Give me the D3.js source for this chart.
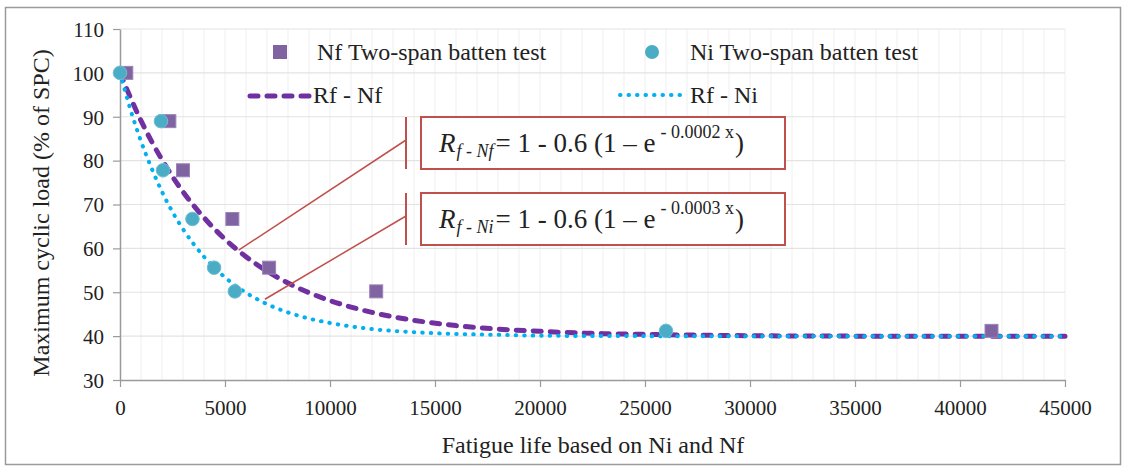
<!DOCTYPE html>
<html>
<head>
<meta charset="utf-8">
<script src="https://cdn.jsdelivr.net/npm/d3@7"></script>
<style>
  body { margin: 0; background: #fff; }
  svg text { font-family: "Liberation Serif", "Times New Roman", Times, serif; fill: #222; }
</style>
</head>
<body>
<div id="chart"></div>
<script>
'use strict';

// test points (fatigue life vs max cyclic load, % of SPC)
const nfLife = [300, 2350, 3000, 5350, 7100, 12200, 41500];
const nfLoad = [100, 89, 77.8, 66.7, 55.6, 50.2, 41.2];
const niLife = [0, 1950, 2050, 3450, 4480, 5470, 26000];
const niLoad = [100, 89, 77.8, 66.7, 55.6, 50.2, 41.2];

// fitted curves
const rfNfLife = [0, 1000, 2000, 3000, 4000, 5000, 6000, 7000, 8000, 9000, 10000, 12000, 14000, 16000, 18000, 20000, 22000, 25000, 30000, 35000, 45000];
const rfNfLoad = [100, 89.1, 80.2, 72.9, 67.0, 62.1, 58.1, 54.8, 52.1, 49.9, 48.1, 45.4, 43.6, 42.4, 41.6, 41.1, 40.7, 40.4, 40.1, 40.0, 40.0];
const rfNiLife = [0, 500, 1000, 1500, 2000, 2500, 3000, 4000, 5000, 6000, 7000, 8000, 9000, 10000, 12000, 14000, 16000, 18000, 20000, 25000, 45000];
const rfNiLoad = [100, 91.6, 84.4, 78.3, 72.9, 68.3, 64.4, 58.1, 53.4, 49.9, 47.3, 45.4, 44.0, 43.0, 41.6, 40.9, 40.5, 40.3, 40.1, 40.0, 40.0];

const xTicks = [0, 5000, 10000, 15000, 20000, 25000, 30000, 35000, 40000, 45000];
const yTicks = [30, 40, 50, 60, 70, 80, 90, 100, 110];

const FONT = "'Liberation Serif', 'Times New Roman', Times, serif";
const W = 1126, H = 470;
var svg = d3.select("#chart").append("svg")
  .attr("width", W)
  .attr("height", H)
  .style("font-family", FONT);

// outer frame
svg.append("rect")
  .attr("x", 5.5).attr("y", 7.5)
  .attr("width", W - 11).attr("height", H - 13)
  .attr("fill", "#fff")
  .attr("stroke", "#9a9a9a")
  .attr("stroke-width", 1.5);

var x = d3.scaleLinear().domain([0, 45000]).range([120, 1065]);
var y = d3.scaleLinear().domain([30, 110]).range([380, 29]);

// minor vertical grid every 1000
svg.append("g")
  .selectAll("line")
  .data(d3.range(1000, 45001, 1000))
  .enter().append("line")
    .attr("x1", d => x(d)).attr("x2", d => x(d))
    .attr("y1", y(110)).attr("y2", y(30))
    .attr("stroke", "#efefef")
    .attr("stroke-width", 1);

// horizontal grid
svg.append("g")
  .selectAll("line")
  .data(yTicks.slice(1))
  .enter().append("line")
    .attr("x1", x(0)).attr("x2", x(45000))
    .attr("y1", d => y(d)).attr("y2", d => y(d))
    .attr("stroke", "#e3e3e3")
    .attr("stroke-width", 1.2);

// axes
var xAxis = svg.append("g")
  .attr("transform", "translate(0," + y(30) + ")")
  .call(d3.axisBottom(x).tickValues(xTicks).tickFormat(d3.format("d")).tickSize(7).tickSizeOuter(0));
var yAxis = svg.append("g")
  .attr("transform", "translate(" + x(0) + ",0)")
  .call(d3.axisLeft(y).tickValues(yTicks).tickSize(7).tickSizeOuter(0));

[xAxis, yAxis].forEach(function(a) {
  a.attr("font-family", FONT);
  a.select(".domain").attr("stroke", "#9a9a9a").attr("stroke-width", 1.5);
  a.selectAll(".tick line").attr("stroke", "#9a9a9a").attr("stroke-width", 1.2);
  a.selectAll(".tick text")
    .style("font-family", FONT)
    .style("font-size", "21px")
    .attr("fill", "#222");
});
xAxis.selectAll(".tick text").attr("dy", "1.2em");
yAxis.selectAll(".tick text").attr("x", -16).attr("dy", "0.35em");

// axis titles
svg.append("text")
  .attr("x", 593).attr("y", 453)
  .attr("text-anchor", "middle")
  .style("font-size", "24px")
  .text("Fatigue life based on Ni and Nf");
svg.append("text")
  .attr("transform", "translate(49," + 213 + ") rotate(-90)")
  .attr("text-anchor", "middle")
  .style("font-size", "24px")
  .text("Maximum cyclic load (% of SPC)");

// curves
var line = d3.line()
  .curve(d3.curveMonotoneX)
  .x(d => x(d[0]))
  .y(d => y(d[1]));

svg.append("path")
  .datum(d3.zip(rfNfLife, rfNfLoad))
  .attr("fill", "none")
  .attr("stroke", "#7030a0")
  .attr("stroke-width", 5)
  .attr("stroke-linecap", "round")
  .attr("stroke-dasharray", "8,9")
  .attr("d", line);

svg.append("path")
  .datum(d3.zip(rfNiLife, rfNiLoad))
  .attr("fill", "none")
  .attr("stroke", "#00b0f0")
  .attr("stroke-width", 4)
  .attr("stroke-linecap", "round")
  .attr("stroke-dasharray", "0.5,8")
  .attr("d", line);

// markers
svg.append("g")
  .selectAll("rect")
  .data(d3.zip(nfLife, nfLoad))
  .enter().append("rect")
    .attr("x", d => x(d[0]) - 6.5)
    .attr("y", d => y(d[1]) - 6.5)
    .attr("width", 13).attr("height", 13)
    .attr("fill", "#8064a2")
    .attr("stroke", "#9b84b8")
    .attr("stroke-width", 1);

svg.append("g")
  .selectAll("circle")
  .data(d3.zip(niLife, niLoad))
  .enter().append("circle")
    .attr("cx", d => x(d[0]))
    .attr("cy", d => y(d[1]))
    .attr("r", 6.8)
    .attr("fill", "#4bacc6")
    .attr("stroke", "#6fbfd4")
    .attr("stroke-width", 1);

// legend
var leg = svg.append("g").style("font-size", "24px");
leg.append("rect").attr("x", 273).attr("y", 45).attr("width", 14).attr("height", 14).attr("fill", "#8064a2");
leg.append("text").attr("x", 317).attr("y", 60).text("Nf Two-span batten test");
leg.append("circle").attr("cx", 652).attr("cy", 52).attr("r", 7).attr("fill", "#4bacc6");
leg.append("text").attr("x", 690).attr("y", 60).text("Ni Two-span batten test");
leg.append("line").attr("x1", 250).attr("x2", 311).attr("y1", 96).attr("y2", 96)
  .attr("stroke", "#7030a0").attr("stroke-width", 5)
  .attr("stroke-linecap", "round").attr("stroke-dasharray", "8,9");
leg.append("text").attr("x", 313).attr("y", 103).text("Rf - Nf");
leg.append("line").attr("x1", 620).attr("x2", 680).attr("y1", 95).attr("y2", 95)
  .attr("stroke", "#00b0f0").attr("stroke-width", 4)
  .attr("stroke-linecap", "round").attr("stroke-dasharray", "0.5,8");
leg.append("text").attr("x", 690).attr("y", 103).text("Rf - Ni");

// equation callouts
var notes = [
  {sub: "f - Nf", k: "- 0.0002 x", at: [5650, 59.6], top: 117, base: 152, hook: 140},
  {sub: "f - Ni", k: "- 0.0003 x", at: [6900, 48.4], top: 193, base: 228, hook: 216}
];
notes.forEach(function(n) {
  var g = svg.append("g");
  g.append("line")
    .attr("x1", x(n.at[0])).attr("y1", y(n.at[1]))
    .attr("x2", 406).attr("y2", n.hook)
    .attr("stroke", "#c0504d").attr("stroke-width", 1.5);
  g.append("line")
    .attr("x1", 406).attr("x2", 406)
    .attr("y1", n.top).attr("y2", n.top + 52)
    .attr("stroke", "#c0504d").attr("stroke-width", 2);
  g.append("rect")
    .attr("x", 421).attr("y", n.top)
    .attr("width", 364).attr("height", 52)
    .attr("fill", "#fff")
    .attr("stroke", "#c0504d").attr("stroke-width", 2);
  var t = g.append("text").attr("x", 439).attr("y", n.base).style("font-size", "27px");
  t.append("tspan").style("font-style", "italic").text("R");
  t.append("tspan").attr("dy", 5).attr("dx", 1).style("font-size", "18px").style("font-style", "italic").text(n.sub);
  t.append("tspan").attr("dy", -5).attr("dx", 2).text("= 1 - 0.6 (1 \u2013 e");
  t.append("tspan").attr("dy", -14).attr("dx", 5).style("font-size", "18px").text(n.k);
  t.append("tspan").attr("dy", 14).attr("dx", 1).text(")");
});
</script>
</body>
</html>
